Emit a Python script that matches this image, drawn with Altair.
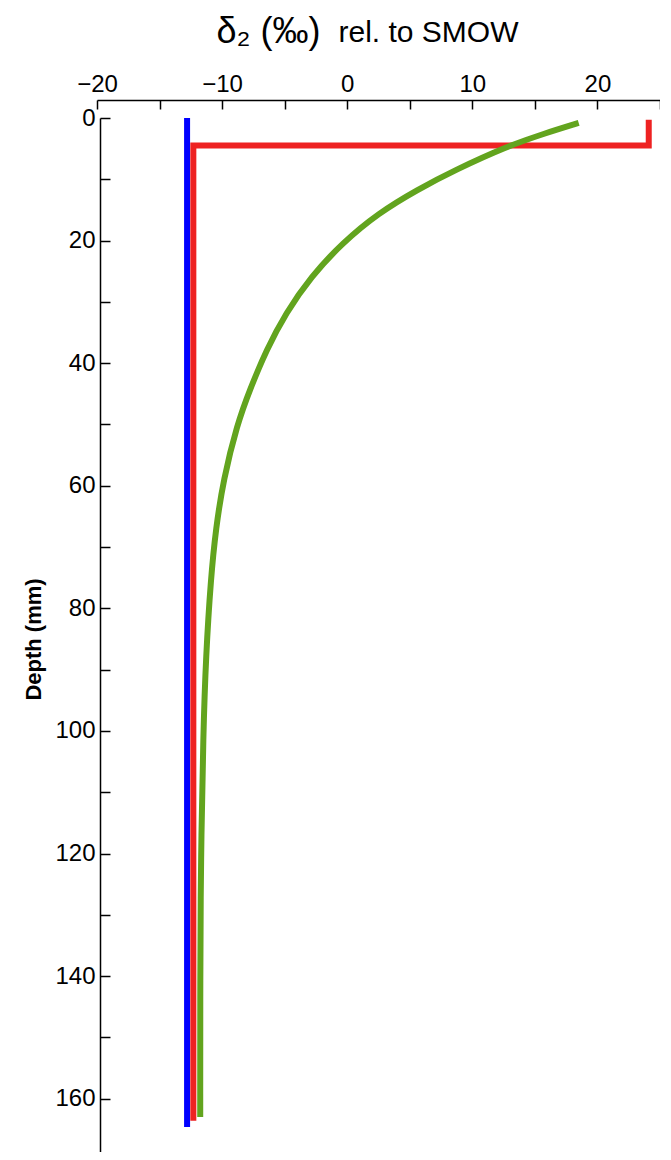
import altair as alt
import pandas as pd

# --- data ---
blue_x = [-12.8, -12.8]
blue_depth = [0.0, 164.6]

red_x = [-12.3, -12.3, 24.1, 24.1]
red_depth = [163.6, 4.5, 4.5, 0.3]

green_depth = [0.8, 2.5, 4.6, 8.5, 11.7, 15.5, 20.4, 25.9, 31.8, 37.8, 44.4, 50.0,
               59.0, 67.0, 75.0, 88.0, 100.0, 121.0, 140.0, 163.0]
green_x = [18.5, 15.8, 12.8, 8.6, 5.6, 2.5, -0.4, -2.9, -4.9, -6.45, -7.8, -8.8,
           -9.9, -10.5, -10.9, -11.3, -11.5, -11.7, -11.75, -11.75]

x_major = [-20, -10, 0, 10, 20]
x_minor = [-20, -15, -10, -5, 0, 5, 10, 15, 20, 25]
y_major = [0, 20, 40, 60, 80, 100, 120, 140, 160]
y_minor = [0, 10, 20, 30, 40, 50, 60, 70, 80, 90, 100, 110, 120, 130, 140, 150, 160, 170]

title_main = "δ₂ (‰)"
title_rest = "rel. to SMOW"
y_title = "Depth (mm)"

FONT = "Liberation Sans"


def frame(xs, ds):
    return pd.DataFrame({"x": xs, "depth": ds, "i": list(range(len(xs)))})


xscale = alt.Scale(domain=[-20, 25], nice=False, zero=False)
yscale = alt.Scale(domain=[0, 170], reverse=True, nice=False, zero=False)

x_main_axis = alt.Axis(orient="top", values=x_major, ticks=False, tickSize=0,
                       domainColor="black", domainWidth=1.5, grid=False,
                       labelFont=FONT, labelFontSize=24, labelColor="black",
                       labelPadding=4, labelFlush=False, offset=18,
                       title=title_main, titleFont=FONT, titleFontSize=36,
                       titleFontWeight="normal", titleColor="black",
                       titleX=119, titleY=-58, titleAlign="left",
                       titleBaseline="alphabetic")
y_main_axis = alt.Axis(orient="left", values=y_major, ticks=False, tickSize=0,
                       domainColor="black", domainWidth=1.5, grid=False,
                       labelFont=FONT, labelFontSize=24, labelColor="black",
                       labelPadding=5, labelFlush=False, offset=-3,
                       title=y_title, titleFont=FONT, titleFontSize=22,
                       titleFontWeight="bold", titleColor="black",
                       titlePadding=9)

x_tick_axis = alt.Axis(orient="top", values=x_minor, ticks=True, tickSize=9,
                       tickColor="black", tickWidth=1.5, labels=False,
                       domain=False, grid=False, offset=9,
                       title=title_rest, titleFont=FONT, titleFontSize=30,
                       titleFontWeight="normal", titleColor="black",
                       titleX=241, titleY=-68, titleAlign="left",
                       titleBaseline="alphabetic")
y_tick_axis = alt.Axis(orient="left", values=y_minor, ticks=True, tickSize=10,
                       tickColor="black", tickWidth=1.5, labels=False,
                       domain=False, grid=False, offset=-13, title=None)

blue = alt.Chart(frame(blue_x, blue_depth)).mark_line(
    color="#0000ff", strokeWidth=6, strokeCap="butt"
).encode(
    x=alt.X("x:Q", scale=xscale, axis=x_main_axis),
    y=alt.Y("depth:Q", scale=yscale, axis=y_main_axis),
    order=alt.Order("i:Q"),
)

red = alt.Chart(frame(red_x, red_depth)).mark_line(
    color="#ee2222", strokeWidth=6, strokeCap="butt", strokeJoin="miter"
).encode(
    x=alt.X("x:Q", scale=xscale, axis=x_tick_axis),
    y=alt.Y("depth:Q", scale=yscale, axis=y_tick_axis),
    order=alt.Order("i:Q"),
)

green = alt.Chart(frame(green_x, green_depth)).mark_line(
    color="#62a41e", strokeWidth=6, strokeCap="butt", interpolate="basis"
).encode(
    x=alt.X("x:Q", scale=xscale, axis=None),
    y=alt.Y("depth:Q", scale=yscale, axis=None),
    order=alt.Order("i:Q"),
)

chart = alt.layer(blue, red, green).resolve_axis(
    x="independent", y="independent"
).properties(
    width=563,
    height=1042,
    autosize=alt.AutoSizeParams(type="none"),
    padding={"left": 89, "top": 110, "right": 0, "bottom": -8},
    background="white",
).configure_view(stroke=None)

chart.save("out.html", embed_options={"renderer": "svg", "actions": False})
